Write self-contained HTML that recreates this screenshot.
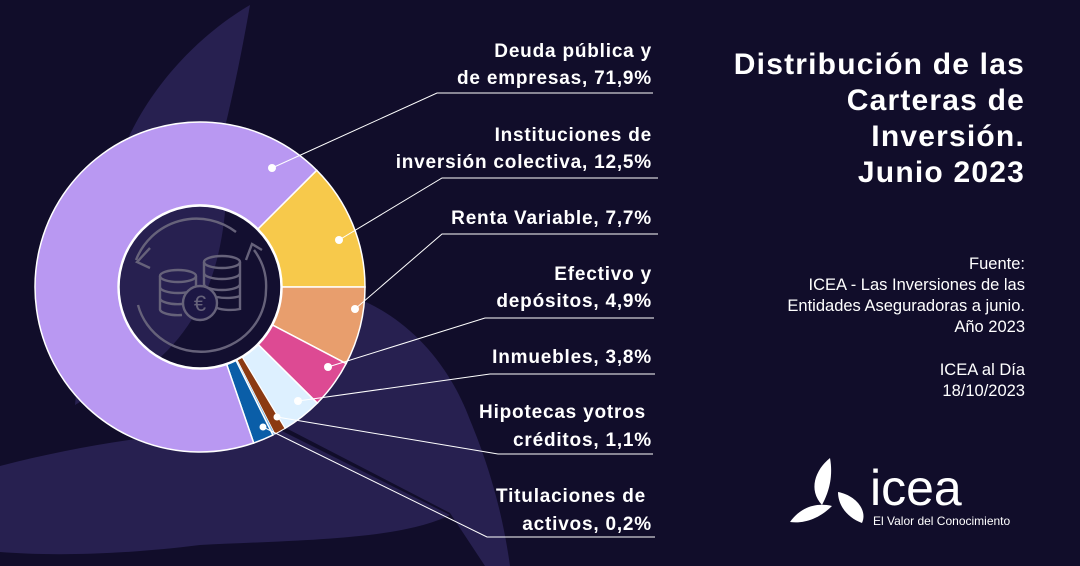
<!DOCTYPE html>
<html><head><meta charset="utf-8"><style>
html,body{margin:0;padding:0;background:#110d2a;}
svg{display:block;}
.lab{font-family:"Liberation Sans",sans-serif;font-weight:bold;font-size:19px;fill:#fff;text-anchor:end;letter-spacing:0.8px;}
.ttl{font-family:"Liberation Sans",sans-serif;font-weight:bold;font-size:30px;fill:#fff;text-anchor:end;letter-spacing:1.2px;}
.src{font-family:"Liberation Sans",sans-serif;font-size:16.5px;fill:#fff;text-anchor:end;}
</style></head><body>
<svg width="1080" height="566" viewBox="0 0 1080 566" xmlns="http://www.w3.org/2000/svg">
<defs><clipPath id="inner"><circle cx="200" cy="287" r="81"/></clipPath></defs>
<rect width="1080" height="566" fill="#110d2a"/>
<g fill="#272050">
<path d="M250,5 C190,40 125,110 108,200 C93,280 80,350 75,405 L157,356 C190,260 225,150 250,5 Z"/>
<path d="M330,290 C380,300 440,340 470,420 C495,480 505,530 510,566 L485,566 L450,513 L280,425 Z"/>
<path d="M0,466 C100,440 200,428 280,430 L450,515 C400,540 300,540 200,545 C120,555 50,556 0,552 Z"/>
</g>
<g stroke="#fff" stroke-width="1.5">
<path d="M365,287 A165,165 0 0 0 316.7,170.3 L258,228.9 A82,82 0 0 1 282,287 Z" fill="#f7c94b"/>
<path d="M365,287 A165,165 0 0 1 346.1,363.6 L272.6,325.1 A82,82 0 0 0 282,287 Z" fill="#e89e6d"/>
<path d="M346.1,363.6 A165,165 0 0 1 317.3,403.1 L258.3,344.7 A82,82 0 0 0 272.6,325.1 Z" fill="#dd4a93"/>
<path d="M317.3,403.1 A165,165 0 0 1 285,428.4 L242.2,357.3 A82,82 0 0 0 258.3,344.7 Z" fill="#ddf0ff"/>
<path d="M285,428.4 A165,165 0 0 1 274.9,434.1 L237.1,360.1 A82,82 0 0 0 242.2,357.3 Z" fill="#8b3a12" stroke-width="1"/>
<path d="M274.9,434.1 A165,165 0 0 1 272.9,435.1 L236.1,360.6 A82,82 0 0 0 237.1,360.1 Z" fill="#7ab8e8" stroke-width="0.5"/>
<path d="M272.9,435.1 A165,165 0 0 1 253.7,443 L226.7,364.5 A82,82 0 0 0 236.1,360.6 Z" fill="#0a5ea8"/>
<path d="M253.7,443 A165,165 0 1 1 316.7,170.3 L258,228.9 A82,82 0 1 0 226.7,364.5 Z" fill="#b998f2"/>
</g>
<g clip-path="url(#inner)">
<rect x="110" y="200" width="180" height="180" fill="#130f30"/>
<path d="M100,200 L226,200 C222,260 205,320 155,362 L100,380 Z" fill="#272050"/>
</g>
<circle cx="200" cy="287" r="81" fill="none" stroke="#fff" stroke-width="1.5"/>
<g fill="none" stroke="#66627a" stroke-width="2.4">
<path d="M136,260 A65,65 0 0 1 236,232"/>
<path d="M150,248 L137,262 L150,268"/>
<path d="M138,305 A65,62 0 0 0 266,290 A65,62 0 0 0 254,250"/>
<path d="M246,260 L252,244 L262,250"/>
<ellipse cx="178" cy="276" rx="18" ry="6"/>
<path d="M160,276 V310 M196,276 V294 M160,287 A18,6 0 0 0 196,287 M160,298 A18,6 0 0 0 182,304 M160,309 A18,6 0 0 0 182,315"/>
<ellipse cx="222" cy="262" rx="18" ry="6"/>
<path d="M204,262 V296 M240,262 V310 M204,273 A18,6 0 0 0 240,273 M204,284 A18,6 0 0 0 240,284 M217,297 A18,6 0 0 0 240,296 M217,308 A18,6 0 0 0 240,309"/>
<circle cx="200" cy="303" r="17" fill="#1d1744"/>
</g>
<text x="200" y="311" font-family="Liberation Sans,sans-serif" font-size="22" fill="#66627a" text-anchor="middle">€</text>
<g stroke="#fff" stroke-width="1" fill="none">
<path d="M272,168 L437,93 L653,93"/>
<path d="M339,240 L442,178 L658,178"/>
<path d="M355,309 L442,234 L658,234"/>
<path d="M328,367 L485,318 L654,318"/>
<path d="M298,401 L490,374 L655,374"/>
<path d="M277,417 L498,454 L653,454"/>
<path d="M263,427 L487,537 L655,537"/>
</g>
<g fill="#fff">
<circle cx="272" cy="168" r="4"/><circle cx="339" cy="240" r="4"/><circle cx="355" cy="309" r="4"/>
<circle cx="328" cy="367" r="4"/><circle cx="298" cy="401" r="4"/><circle cx="277" cy="417" r="3.5"/><circle cx="263" cy="427" r="3.5"/>
</g>
<text class="lab" x="652" y="57">Deuda pública y</text>
<text class="lab" x="652" y="84">de empresas, 71,9%</text>
<text class="lab" x="652" y="141">Instituciones de</text>
<text class="lab" x="652" y="168">inversión colectiva, 12,5%</text>
<text class="lab" x="652" y="224">Renta Variable, 7,7%</text>
<text class="lab" x="652" y="280">Efectivo y</text>
<text class="lab" x="652" y="307">depósitos, 4,9%</text>
<text class="lab" x="652" y="363">Inmuebles, 3,8%</text>
<text class="lab" x="646" y="418">Hipotecas yotros</text>
<text class="lab" x="652" y="446">créditos, 1,1%</text>
<text class="lab" x="646" y="502">Titulaciones de</text>
<text class="lab" x="652" y="530">activos, 0,2%</text>
<text class="ttl" x="1025" y="74">Distribución de las</text>
<text class="ttl" x="1025" y="110">Carteras de</text>
<text class="ttl" x="1025" y="146">Inversión.</text>
<text class="ttl" x="1025" y="182">Junio 2023</text>
<text class="src" x="1025" y="269">Fuente:</text>
<text class="src" x="1025" y="290">ICEA - Las Inversiones de las</text>
<text class="src" x="1025" y="311">Entidades Aseguradoras a junio.</text>
<text class="src" x="1025" y="332">Año 2023</text>
<text class="src" x="1025" y="375">ICEA al Día</text>
<text class="src" x="1025" y="396">18/10/2023</text>
<g fill="#fff">
<path d="M830,458 C815,470 808,490 822,505 C830,490 833,475 830,458 Z"/>
<path d="M838,492 C855,495 868,510 862,523 C848,518 838,506 838,492 Z"/>
<path d="M790,522 C800,508 815,502 832,506 C820,518 805,524 790,522 Z"/>
</g>
<text x="870" y="505" font-family="Liberation Sans,sans-serif" font-size="50" fill="#fff">icea</text>
<text x="873" y="525" font-family="Liberation Sans,sans-serif" font-size="12" fill="#fff">El Valor del Conocimiento</text>
</svg>
</body></html>
